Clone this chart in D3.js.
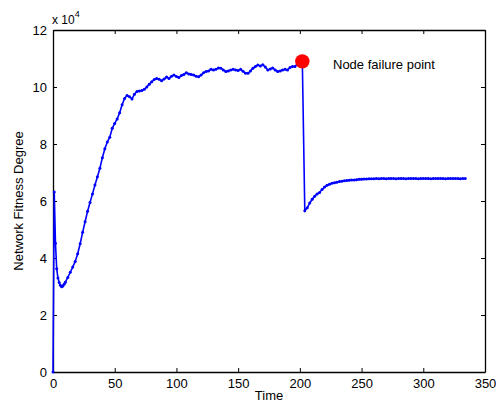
<!DOCTYPE html>
<html>
<head>
<meta charset="utf-8">
<script src="https://cdn.jsdelivr.net/npm/d3@7"></script>
<style>
  body { margin: 0; background: #fff; }
  svg { display: block; font-family: "Liberation Sans", Arial, sans-serif; }
  .axis text { font-size: 13px; fill: #000; }
  .axis path, .axis line { stroke: #000; }
</style>
</head>
<body>
<div id="app"></div>
<script>
// fitness degree in units of 10^4, sampled over time
const startFitness = [0, 6.32, 4.52, 3.62, 3.3, 3.14, 3.04, 2.99, 3.02, 3.08, 3.15]; // t = 0..10, step 1
const growthFitness = [ // t = 12..200, step 2
  3.32, 3.5, 3.68, 3.88, 4.15, 4.5, 4.9, 5.27, 5.64, 5.95,
  6.25, 6.56, 6.85, 7.15, 7.52, 7.83, 8.07, 8.24, 8.55, 8.72,
  8.88, 9.1, 9.38, 9.6, 9.7, 9.66, 9.58, 9.75, 9.84, 9.86,
  9.88, 9.92, 10.0, 10.1, 10.18, 10.26, 10.3, 10.27, 10.22, 10.28,
  10.35, 10.3, 10.38, 10.42, 10.37, 10.33, 10.4, 10.44, 10.5, 10.46,
  10.44, 10.42, 10.38, 10.36, 10.42, 10.5, 10.54, 10.56, 10.62, 10.6,
  10.62, 10.67, 10.66, 10.6, 10.54, 10.56, 10.6, 10.62, 10.6, 10.58,
  10.62, 10.55, 10.48, 10.48, 10.56, 10.66, 10.72, 10.77, 10.74, 10.78,
  10.7, 10.6, 10.63, 10.67, 10.6, 10.54, 10.56, 10.6, 10.62, 10.6,
  10.68, 10.72, 10.72, 10.8, 10.86
];
const failurePoint = { time: 202, fitness: 10.9 };
const recoveryFitness = [ // t = 204..334, step 2
  5.66, 5.76, 5.93, 6.06, 6.17, 6.25, 6.3, 6.4, 6.49, 6.55,
  6.59, 6.62, 6.64, 6.66, 6.68, 6.69, 6.71, 6.72, 6.73, 6.74,
  6.74, 6.75, 6.76, 6.76, 6.77, 6.77, 6.78, 6.78, 6.78, 6.79,
  6.78, 6.79, 6.79, 6.78, 6.79, 6.79, 6.79, 6.78, 6.79, 6.79,
  6.79, 6.78, 6.79, 6.79, 6.79, 6.79, 6.78, 6.79, 6.79, 6.79,
  6.79, 6.78, 6.79, 6.79, 6.79, 6.79, 6.79, 6.78, 6.79, 6.79,
  6.79, 6.79, 6.79, 6.78, 6.79, 6.79
];
const xTicks = [0, 50, 100, 150, 200, 250, 300, 350];
const yTicks = [0, 2, 4, 6, 8, 10, 12];

const phase = (vals, t0, step) => vals.map((v, i) => ({ time: t0 + i * step, fitness: v }));
const data = [
  ...phase(startFitness, 0, 1),
  ...phase(growthFitness, 12, 2),
  failurePoint,
  ...phase(recoveryFitness, 204, 2)
];

const svg = d3.select('#app').append('svg')
    .attr('width', 496)
    .attr('height', 403);

const margin = { top: 30, right: 11, bottom: 31, left: 53 };
const width = +svg.attr('width') - margin.left - margin.right;
const height = +svg.attr('height') - margin.top - margin.bottom;

const g = svg.append('g')
    .attr('transform', `translate(${margin.left},${margin.top})`);

const x = d3.scaleLinear().domain([0, 350]).range([0, width]);
const y = d3.scaleLinear().domain([0, 12]).range([height, 0]);

// box with inward ticks on all four sides
g.append('g')
    .attr('class', 'axis')
    .attr('transform', `translate(0,${height})`)
    .call(d3.axisBottom(x).tickValues(xTicks).tickSizeInner(-4).tickSizeOuter(0).tickPadding(7));

g.append('g')
    .attr('class', 'axis')
    .call(d3.axisTop(x).tickValues(xTicks).tickSizeInner(-4).tickSizeOuter(0).tickFormat(''));

g.append('g')
    .attr('class', 'axis')
    .call(d3.axisLeft(y).tickValues(yTicks).tickSizeInner(-4).tickSizeOuter(0).tickPadding(6));

g.append('g')
    .attr('class', 'axis')
    .attr('transform', `translate(${width},0)`)
    .call(d3.axisRight(y).tickValues(yTicks).tickSizeInner(-4).tickSizeOuter(0).tickFormat(''));

g.selectAll('.axis .domain').attr('stroke-width', 1.3);

const line = d3.line()
    .x(d => x(d.time))
    .y(d => y(d.fitness));

g.append('path')
    .datum(data)
    .attr('fill', 'none')
    .attr('stroke', '#0000ff')
    .attr('stroke-width', 1.6)
    .attr('d', line);

g.selectAll('.dot')
    .data(data)
    .enter().append('circle')
    .attr('class', 'dot')
    .attr('cx', d => x(d.time))
    .attr('cy', d => y(d.fitness))
    .attr('r', 1.5)
    .attr('fill', '#0000ff');

g.append('circle')
    .attr('cx', x(failurePoint.time))
    .attr('cy', y(failurePoint.fitness))
    .attr('r', 7.2)
    .attr('fill', '#ff0000');

g.append('text')
    .attr('x', 280)
    .attr('y', 39)
    .attr('font-size', 13)
    .text('Node failure point');

// exponent label
const expo = svg.append('text')
    .attr('x', 52)
    .attr('y', 24)
    .attr('font-size', 12);
expo.append('tspan').text('x 10');
expo.append('tspan')
    .attr('dy', -7)
    .attr('font-size', 9)
    .text('4');

svg.append('text')
    .attr('x', margin.left + width / 2)
    .attr('y', 400)
    .attr('text-anchor', 'middle')
    .attr('font-size', 13)
    .text('Time');

svg.append('text')
    .attr('transform', `translate(23,${margin.top + height / 2}) rotate(-90)`)
    .attr('text-anchor', 'middle')
    .attr('font-size', 13)
    .text('Network Fitness Degree');
</script>
</body>
</html>
